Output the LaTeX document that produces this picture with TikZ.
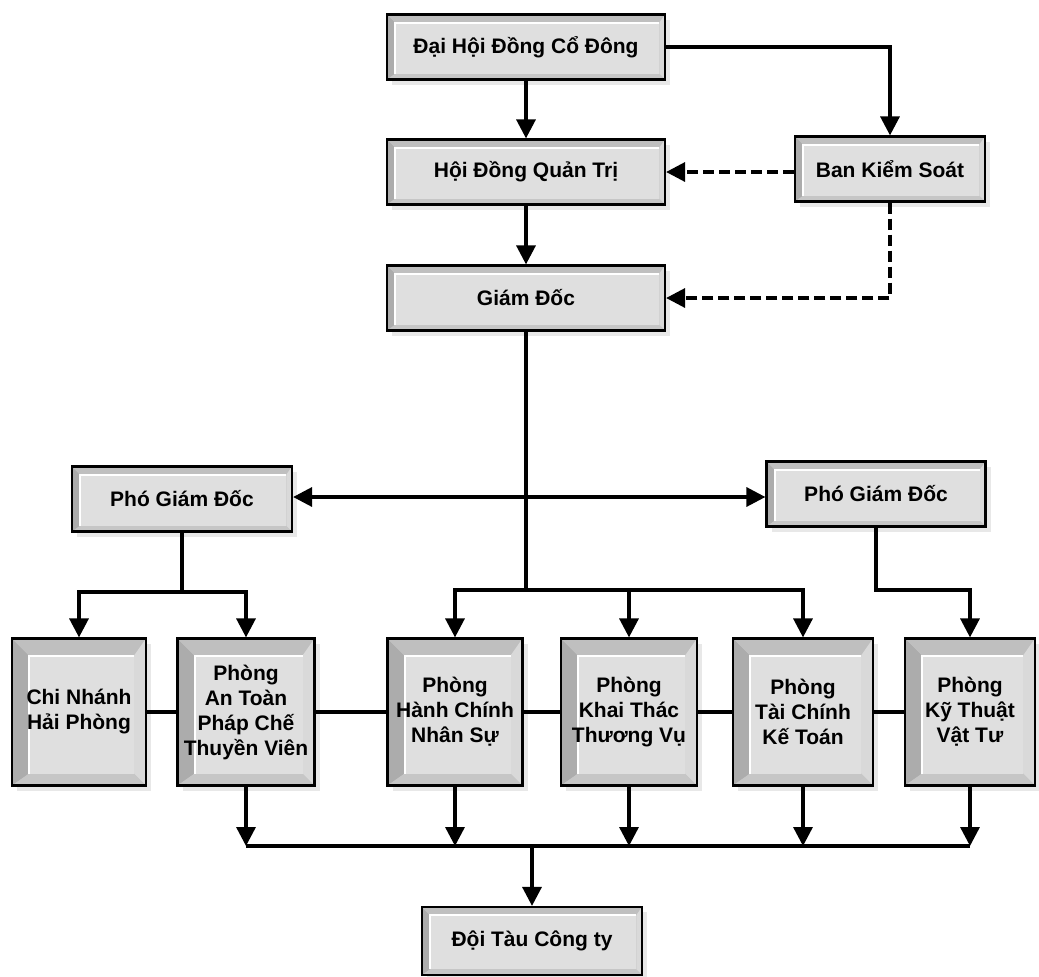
\documentclass[tikz,border=0pt]{standalone}
\usepackage{fontspec}
\setmainfont{Liberation Sans}
\usetikzlibrary{arrows.meta,shadows}

\tikzset{
  bevel/.style={path picture={
    \path (path picture bounding box.north west) coordinate (bnw)
          (path picture bounding box.north east) coordinate (bne)
          (path picture bounding box.south east) coordinate (bse)
          (path picture bounding box.south west) coordinate (bsw);
    \path ([shift={(#1,-#1)}]bnw) coordinate (inw)
          ([shift={(-#1*0.7,-#1)}]bne) coordinate (ine)
          ([shift={(-#1*0.7,#1*0.7)}]bse) coordinate (ise)
          ([shift={(#1,#1*0.7)}]bsw) coordinate (isw);
    \fill[gray!65] (bnw) -- (inw) -- (isw) -- (bsw) -- cycle;
    \fill[gray!50] (bnw) -- (bne) -- (ine) -- (inw) -- cycle;
    \fill[gray!30] (bne) -- (bse) -- (ise) -- (ine) -- cycle;
    \fill[gray!45] (bsw) -- (isw) -- (ise) -- (bse) -- cycle;
    \fill[gray!25] (inw) rectangle (ise);
    \draw[white, line width=2pt] (isw) -- (inw) -- (ine);
  }}
}

\begin{document}
\begin{tikzpicture}[x=1pt,y=-1pt,
  box/.style={draw, line width=2.2pt, fill=gray!45, bevel=8pt,
    drop shadow={shadow xshift=5pt,shadow yshift=-5pt,fill=gray!35},
    font=\bfseries\fontsize{21}{25}\selectfont, align=center, inner sep=0pt},
  widebox/.style={box, minimum width=#1, minimum height=65pt},
  tallbox/.style={box, bevel=17pt, minimum width=#1, minimum height=147pt},
  link/.style={line width=3.4pt},
  arr/.style={link, -{Triangle[length=19pt,width=19pt]}},
  dasharr/.style={arr, dash pattern=on 11pt off 5pt},
  ]

\useasboundingbox (0,0) rectangle (1039,977);

\draw (526, 47) node[widebox=278pt] (dhdcd) {Đại Hội Đồng Cổ Đông};

\draw (526, 172) node[widebox=278pt] (hdqt) {Hội Đồng Quản Trị};

\draw (526, 298) node[widebox=278pt] (gd) {Giám Đốc};

\draw (890, 169) node[widebox=190pt] (bks) {Ban Kiểm Soát};

\draw (182, 499) node[widebox=220pt] (pgd1) {Phó Giám Đốc};

\draw (876, 494) node[widebox=219pt] (pgd2) {Phó Giám Đốc};

\draw (79, 712) node[tallbox=134pt] (cnhp) {Chi Nhánh\\Hải Phòng};

\draw (246, 712) node[tallbox=137pt] (atpc) {Phòng\\An Toàn\\Pháp Chế\\Thuyền Viên};

\draw (455, 712) node[tallbox=135pt] (hcns) {Phòng\\Hành Chính\\Nhân Sự};

\draw (629, 712) node[tallbox=136pt] (kttv) {Phòng\\Khai Thác\\Thương Vụ};

\draw (803, 712) node[tallbox=140pt] (tckt) {Phòng\\Tài Chính\\Kế Toán};

\draw (970, 712) node[tallbox=130pt] (ktvt) {Phòng\\Kỹ Thuật\\Vật Tư};

\draw (532, 941) node[widebox=220pt, minimum height=68pt] (dtct) {Đội Tàu Công ty};

\coordinate (hub) at (526, 497);
\coordinate (split) at (526, 590);
\coordinate (split1) at (182, 592);
\coordinate (split2) at (876, 590);
\coordinate (bus) at (532, 846);

\draw[arr] (dhdcd) -- (hdqt);
\draw[arr] (hdqt) -- (gd);
\draw[arr] (dhdcd.east) -| (bks);

\draw[dasharr] (bks.west |- hdqt.east) -- (hdqt.east);
\draw[dasharr] (bks.south) |- (gd.east);

\draw[link] (gd.south) -- (split);
\draw[arr, {Triangle[length=19pt,width=19pt]}-] (pgd1.east |- hub) -- (hub);
\draw[arr] (hub) -- (pgd2.west |- hub);

\draw[arr] (split) -| (hcns.north);
\draw[arr] (split) -| (tckt.north);
\draw[arr] (kttv.north |- split) -- (kttv.north);

\draw[link] (pgd1.south) -- (split1);
\draw[arr] (split1) -| (cnhp.north);
\draw[arr] (split1) -| (atpc.north);

\draw[arr] (pgd2.south) -- (split2) -| (ktvt.north);

\draw[link] (cnhp.east) -- (atpc.west);
\draw[link] (atpc.east) -- (hcns.west);
\draw[link] (hcns.east) -- (kttv.west);
\draw[link] (kttv.east) -- (tckt.west);
\draw[link] (tckt.east) -- (ktvt.west);

\draw[arr] (atpc.south) -- (atpc.south |- bus);
\draw[arr] (hcns.south) -- (hcns.south |- bus);
\draw[arr] (kttv.south) -- (kttv.south |- bus);
\draw[arr] (tckt.south) -- (tckt.south |- bus);
\draw[arr] (ktvt.south) -- (ktvt.south |- bus);
\draw[link] (atpc.south |- bus) -- (ktvt.south |- bus);
\draw[arr] (bus) -- (dtct);

\end{tikzpicture}
\end{document}
